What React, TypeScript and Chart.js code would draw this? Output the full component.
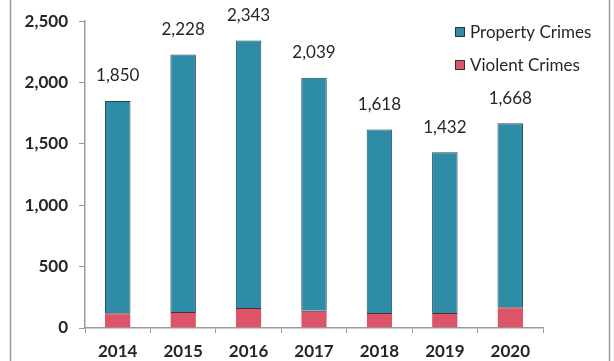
import React, { useEffect, useRef } from "react";
import { Chart, registerables } from "chart.js";

Chart.register(...registerables);

const years = ["2014", "2015", "2016", "2017", "2018", "2019", "2020"];
const totalCrimes = [1850, 2228, 2343, 2039, 1618, 1432, 1668];
const violentCrimes = [120, 130, 162, 140, 122, 122, 170];
const propertyCrimes = totalCrimes.map((t, i) => t - violentCrimes[i]);
const yTicks = [0, 500, 1000, 1500, 2000, 2500];

const FONT = "Lato, 'Open Sans', sans-serif";

const framePlugin = {
  id: "frame",
  beforeDraw(chart: any) {
    const { ctx, width, height } = chart;
    ctx.save();
    ctx.fillStyle = "#ffffff";
    ctx.fillRect(0, 0, width, height);
    ctx.strokeStyle = "#9a9a9a";
    ctx.lineWidth = 1.5;
    ctx.beginPath();
    ctx.moveTo(10.5, 0);
    ctx.lineTo(10.5, height);
    ctx.moveTo(609.5, 0);
    ctx.lineTo(609.5, height);
    ctx.stroke();
    ctx.restore();
  },
};

const totalsPlugin = {
  id: "totals",
  afterDatasetsDraw(chart: any) {
    const { ctx } = chart;
    const meta = chart.getDatasetMeta(1);
    const yScale = chart.scales.y;
    ctx.save();
    ctx.font = `17px ${FONT}`;
    ctx.fillStyle = "#262626";
    ctx.textAlign = "center";
    ctx.textBaseline = "middle";
    meta.data.forEach((bar: any, i: number) => {
      const total = totalCrimes[i];
      const y = yScale.getPixelForValue(total);
      ctx.fillText(total.toLocaleString("en-US"), bar.x, y - 25);
    });
    ctx.restore();
  },
};

const legendPlugin = {
  id: "customLegend",
  afterDraw(chart: any) {
    const { ctx, chartArea } = chart;
    const datasets = chart.data.datasets;
    const order = [1, 0];
    const x0 = chartArea.right - 88;
    ctx.save();
    ctx.font = `17px ${FONT}`;
    ctx.textBaseline = "middle";
    ctx.textAlign = "left";
    order.forEach((di, row) => {
      const ds = datasets[di];
      const cy = 32 + row * 33;
      ctx.fillStyle = ds.backgroundColor;
      ctx.fillRect(x0, cy - 5, 10, 10);
      ctx.strokeStyle = "#333";
      ctx.lineWidth = 1;
      ctx.strokeRect(x0 + 0.5, cy - 4.5, 9, 9);
      ctx.fillStyle = "#262626";
      ctx.fillText(ds.label, x0 + 15, cy + 1);
    });
    ctx.restore();
  },
};

export default function App() {
  const ref = useRef<HTMLCanvasElement | null>(null);

  useEffect(() => {
    document.body.style.margin = "0";
    const canvas = ref.current;
    if (!canvas) return;
    const chart = new Chart(canvas, {
      type: "bar",
      data: {
        labels: years,
        datasets: [
          {
            label: "Violent Crimes",
            data: violentCrimes,
            backgroundColor: "#dc5468",
            borderColor: "#5a2a33",
            borderWidth: { top: 1, left: 0, right: 0, bottom: 0 },
            barPercentage: 0.39,
            categoryPercentage: 1,
          },
          {
            label: "Property Crimes",
            data: propertyCrimes,
            backgroundColor: "#2f8ca6",
            borderColor: "#1d4a5a",
            borderWidth: 1,
            barPercentage: 0.39,
            categoryPercentage: 1,
          },
        ],
      },
      options: {
        responsive: false,
        animation: false,
        layout: { padding: { left: 0, right: 71, top: 16, bottom: 0 } },
        plugins: {
          legend: { display: false },
          tooltip: { enabled: false },
          title: { display: false },
        },
        scales: {
          x: {
            stacked: true,
            grid: {
              offset: true,
              drawOnChartArea: false,
              drawTicks: true,
              tickLength: 5,
              color: "#9a9a9a",
            },
            border: { display: true, color: "#9a9a9a", width: 1.5 },
            ticks: {
              color: "#262626",
              font: { family: FONT, size: 17, weight: "bold" },
              padding: 8,
            },
            afterFit(scale: any) {
              scale.height = 33;
            },
          },
          y: {
            stacked: true,
            min: 0,
            max: 2500,
            afterBuildTicks(scale: any) {
              scale.ticks = yTicks.map((v) => ({ value: v }));
            },
            grid: {
              drawOnChartArea: false,
              drawTicks: true,
              tickLength: 6,
              color: "#9a9a9a",
            },
            border: { display: true, color: "#9a9a9a", width: 1.5 },
            ticks: {
              color: "#262626",
              font: { family: FONT, size: 17, weight: "bold" },
              padding: 11,
              callback: (v: any) => Number(v).toLocaleString("en-US"),
            },
            afterFit(scale: any) {
              scale.width = 85;
            },
          },
        },
      },
      plugins: [framePlugin, totalsPlugin, legendPlugin],
    });
    return () => chart.destroy();
  }, []);

  return (
    <div style={{ width: 614, height: 361 }}>
      <canvas ref={ref} width={614} height={361} style={{ display: "block" }} />
    </div>
  );
}
